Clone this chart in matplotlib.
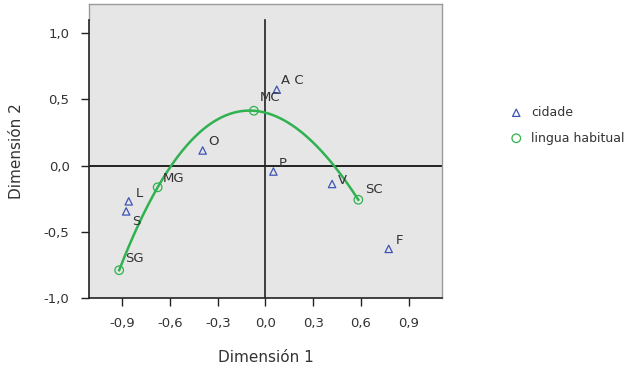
import numpy as np
import matplotlib
matplotlib.use("Agg")
import matplotlib.pyplot as plt

# cidade (triangles)
cidade_labels = ["A C", "O", "P", "V", "L", "S", "F"]
cidade_x = [0.071, -0.395, 0.050, 0.419, -0.860, -0.876, 0.775]
cidade_y = [0.573, 0.114, -0.045, -0.139, -0.270, -0.346, -0.629]

# lingua habitual (circles)
lingua_labels = ["SG", "MG", "MC", "SC"]
lingua_x = [-0.920, -0.678, -0.073, 0.584]
lingua_y = [-0.790, -0.164, 0.414, -0.258]

xticks = [-0.9, -0.6, -0.3, 0.0, 0.3, 0.6, 0.9]
yticks = [-1.0, -0.5, 0.0, 0.5, 1.0]

# label offsets in points (dx, dy)
cidade_off = {"A C": (3, 2), "O": (4, 2), "P": (4, 1), "V": (4, -2),
              "L": (5, 1), "S": (4, -12), "F": (5, 1)}
lingua_off = {"SG": (4, 4), "MG": (4, 2), "MC": (4, 5), "SC": (5, 3)}

blue = "#3d55b5"
green = "#2fb24f"

fig = plt.figure(figsize=(6.41, 3.72), dpi=100)
ax = fig.add_axes([0.1388, 0.1989, 0.5507, 0.7903])
ax.set_facecolor("#e6e6e6")

ax.set_xlim(-1.11, 1.11)
ax.set_ylim(-1.0, 1.22)

# reference lines
ax.axhline(0, color="#222222", lw=1.4, zorder=1)
ax.plot([0, 0], [-1.0, 1.1], color="#222222", lw=1.2, zorder=1)

# interpolation curve through lingua habitual points
coef = np.polyfit(lingua_x, lingua_y, 3)
xs = np.linspace(min(lingua_x), max(lingua_x), 200)
ax.plot(xs, np.polyval(coef, xs), color=green, lw=1.8, zorder=2)

ax.scatter(cidade_x, cidade_y, marker="^", s=28, facecolors="none",
           edgecolors=blue, linewidths=0.9, zorder=3, label="cidade")
ax.scatter(lingua_x, lingua_y, marker="o", s=38, facecolors="none",
           edgecolors=green, linewidths=0.9, zorder=3, label="lingua habitual")

for lab, x, y in zip(cidade_labels, cidade_x, cidade_y):
    ax.annotate(lab, (x, y), xytext=cidade_off[lab], textcoords="offset points",
                fontsize=9.5, color="#333333", ha="left", va="bottom")
for lab, x, y in zip(lingua_labels, lingua_x, lingua_y):
    ax.annotate(lab, (x, y), xytext=lingua_off[lab], textcoords="offset points",
                fontsize=9.5, color="#333333", ha="left", va="bottom")

ax.set_xticks(xticks)
ax.set_yticks(yticks)
ax.set_xticklabels([f"{v:.1f}".replace(".", ",") for v in xticks])
ax.set_yticklabels([f"{v:.1f}".replace(".", ",") for v in yticks])
ax.tick_params(axis="both", direction="out", length=6, width=1, color="#222222",
               labelsize=9.5, labelcolor="#333333", pad=8)

for side in ["top", "right"]:
    ax.spines[side].set_color("#9a9a9a")
    ax.spines[side].set_linewidth(1)
ax.spines["left"].set_bounds(-1.0, 1.1)
ax.spines["left"].set_color("#222222")
ax.spines["bottom"].set_color("#222222")
ax.spines["left"].set_linewidth(1.2)
ax.spines["bottom"].set_linewidth(1.2)
ax.plot([0, 0], [(1.1 + 1.0) / 2.22, 1.0], color="#9a9a9a", lw=1,
        transform=ax.transAxes, clip_on=False)

ax.set_xlabel("Dimensión 1", fontsize=11, color="#333333", labelpad=14)
ax.set_ylabel("Dimensión 2", fontsize=11, color="#333333", labelpad=14)

ax.legend(loc="upper left", bbox_to_anchor=(1.175, 0.67), frameon=False,
          fontsize=9, handletextpad=0.6, borderaxespad=0, labelspacing=1.0,
          handlelength=1.2, labelcolor="#333333")

fig.savefig("out.png", dpi=100)
